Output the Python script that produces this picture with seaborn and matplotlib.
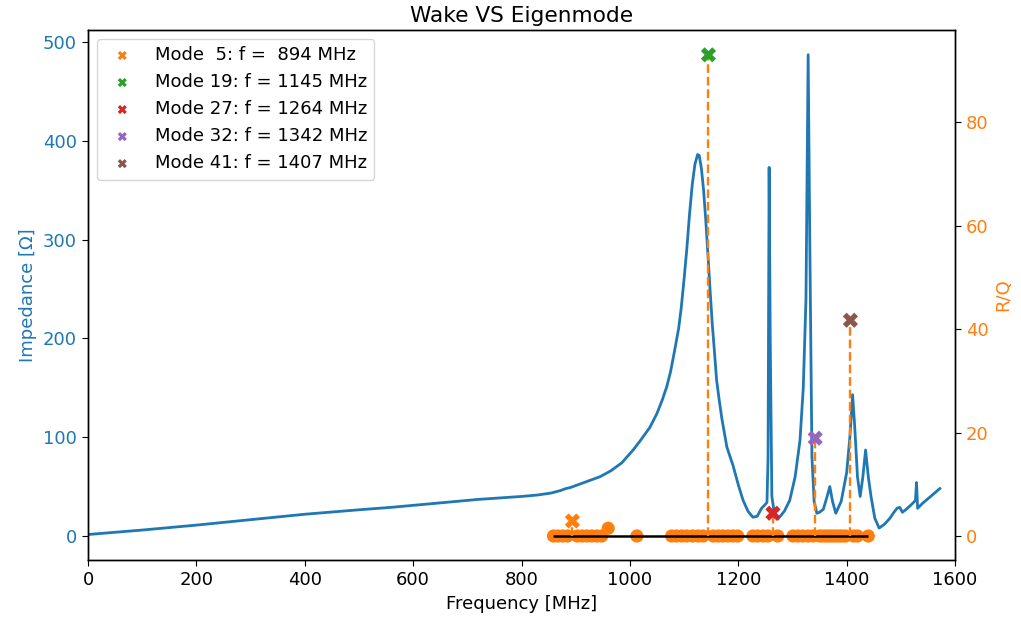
import matplotlib
matplotlib.use("Agg")
import matplotlib.pyplot as plt
import seaborn as sns
import pandas as pd

# ---- Data ----
# Wake impedance curve (frequency MHz, impedance Ohm)
wake_freq = [0, 100, 200, 300, 400, 500, 560, 640, 720, 800, 830, 855, 872, 882, 890,
             910, 930, 945, 965, 985, 1006, 1020, 1037, 1050, 1060, 1068, 1075, 1082,
             1090, 1095, 1100, 1105, 1110, 1115, 1120, 1125, 1128, 1132, 1136, 1140,
             1144, 1148, 1152, 1156, 1160, 1165, 1170, 1179, 1185, 1190, 1195, 1200,
             1205, 1209, 1218, 1227, 1235, 1243, 1250, 1253, 1255, 1257, 1259,
             1262, 1267, 1273, 1285, 1295, 1305, 1314, 1320, 1325, 1329, 1332, 1336,
             1340, 1345, 1350, 1357, 1364, 1369, 1374, 1380, 1390, 1400, 1406, 1411,
             1415, 1420, 1425, 1430, 1435, 1440, 1445, 1452, 1460, 1470, 1480, 1486,
             1493, 1498, 1503, 1510, 1520, 1527, 1529, 1531, 1540, 1555, 1572]
wake_imp = [1.5, 6, 11, 16.5, 22, 26.5, 29, 33, 37, 40, 41.5, 43.5, 46, 48, 49,
            53, 57, 60, 66, 74, 87, 97, 110, 124, 138, 151, 166, 186,
            210, 232, 260, 290, 325, 355, 376, 386, 385, 372, 350, 320,
            285, 249, 215, 187, 158, 137, 118, 90, 80, 72, 62, 52,
            43, 36, 25, 19, 20, 28, 32, 34, 80, 373, 200,
            40, 22, 17, 25, 36, 60, 97, 150, 240, 487, 300, 80,
            35, 23, 24, 27, 40, 50, 35, 23, 35, 64, 100, 143,
            110, 60, 40, 60, 87, 60, 40, 18, 8, 12, 18, 23,
            28, 29, 24, 27, 32, 36, 54, 28, 33, 40, 48]

# Eigenmodes (frequency MHz, R/Q)
mode_freq = [859, 867, 876, 885, 903, 912, 921, 930, 939, 948, 960, 1013, 1077,
             1086, 1096, 1105, 1116, 1126, 1135, 1154, 1163, 1172, 1181, 1190,
             1199, 1227, 1236, 1246, 1255, 1273, 1301, 1310, 1319, 1329, 1338,
             1350, 1356, 1362, 1368, 1374, 1380, 1386, 1392, 1398, 1413, 1420, 1440]
mode_rq = [0, 0, 0, 0, 0, 0, 0, 0, 0, 0, 1.5, 0, 0,
           0, 0, 0, 0, 0, 0, 0, 0, 0, 0, 0,
           0, 0, 0, 0, 0, 0, 0, 0, 0, 0, 0,
           0, 0, 0, 0, 0, 0, 0, 0, 0, 0, 0, 0]

# Highlighted modes
hl_num = [5, 19, 27, 32, 41]
hl_freq = [894, 1145, 1264, 1342, 1407]
hl_rq = [2.9, 93, 4.4, 18.9, 41.7]
hl_colors = ["C1", "C2", "C3", "C4", "C5"]

# ---- Plot ----
plt.rcParams.update({
    "font.size": 13,
    "axes.linewidth": 1.0,
    "xtick.major.size": 4.5,
    "ytick.major.size": 4.5,
})

fig = plt.figure(figsize=(10.21, 6.23), dpi=100)
ax = fig.add_axes([88 / 1021, 1 - 560 / 623, (955 - 88) / 1021, (560 - 30) / 623])
ax2 = ax.twinx()

wake_df = pd.DataFrame({"f": wake_freq, "Z": wake_imp})
sns.lineplot(data=wake_df, x="f", y="Z", ax=ax, color="C0", linewidth=2.0)

modes_df = pd.DataFrame({"f": mode_freq, "rq": mode_rq})
sns.scatterplot(data=modes_df, x="f", y="rq", ax=ax2, color="C1", s=90,
                edgecolor="none", zorder=2)
ax2.hlines(0, min(mode_freq), max(mode_freq), color="black", linewidth=1.8, zorder=3)
ax2.vlines(hl_freq, 0, hl_rq, colors="C1", linestyles="--", linewidth=1.7, zorder=3)

for n, f, r, c in zip(hl_num, hl_freq, hl_rq, hl_colors):
    sns.scatterplot(x=[f], y=[r], ax=ax2, color=c, marker="X", s=120,
                    edgecolor="none", zorder=4,
                    label=f"Mode {n:2d}: f = {f:4d} MHz")

ax.set_xlim(0, 1600)
ax.set_ylim(-24.3, 512)
ax2.set_ylim(-4.64, 97.8)
ax.set_xticks(range(0, 1601, 200))
ax.set_yticks(range(0, 501, 100))
ax2.set_yticks(range(0, 81, 20))

ax.set_xlabel("Frequency [MHz]")
ax.set_ylabel("Impedance [Ω]", color="C0")
ax2.set_ylabel("R/Q", color="C1")
ax.tick_params(axis="y", labelcolor="C0")
ax2.tick_params(axis="y", labelcolor="C1")
ax.set_title("Wake VS Eigenmode")

ax2.legend(loc="upper left", markerscale=0.6)

fig.savefig("out.png", dpi=100)
